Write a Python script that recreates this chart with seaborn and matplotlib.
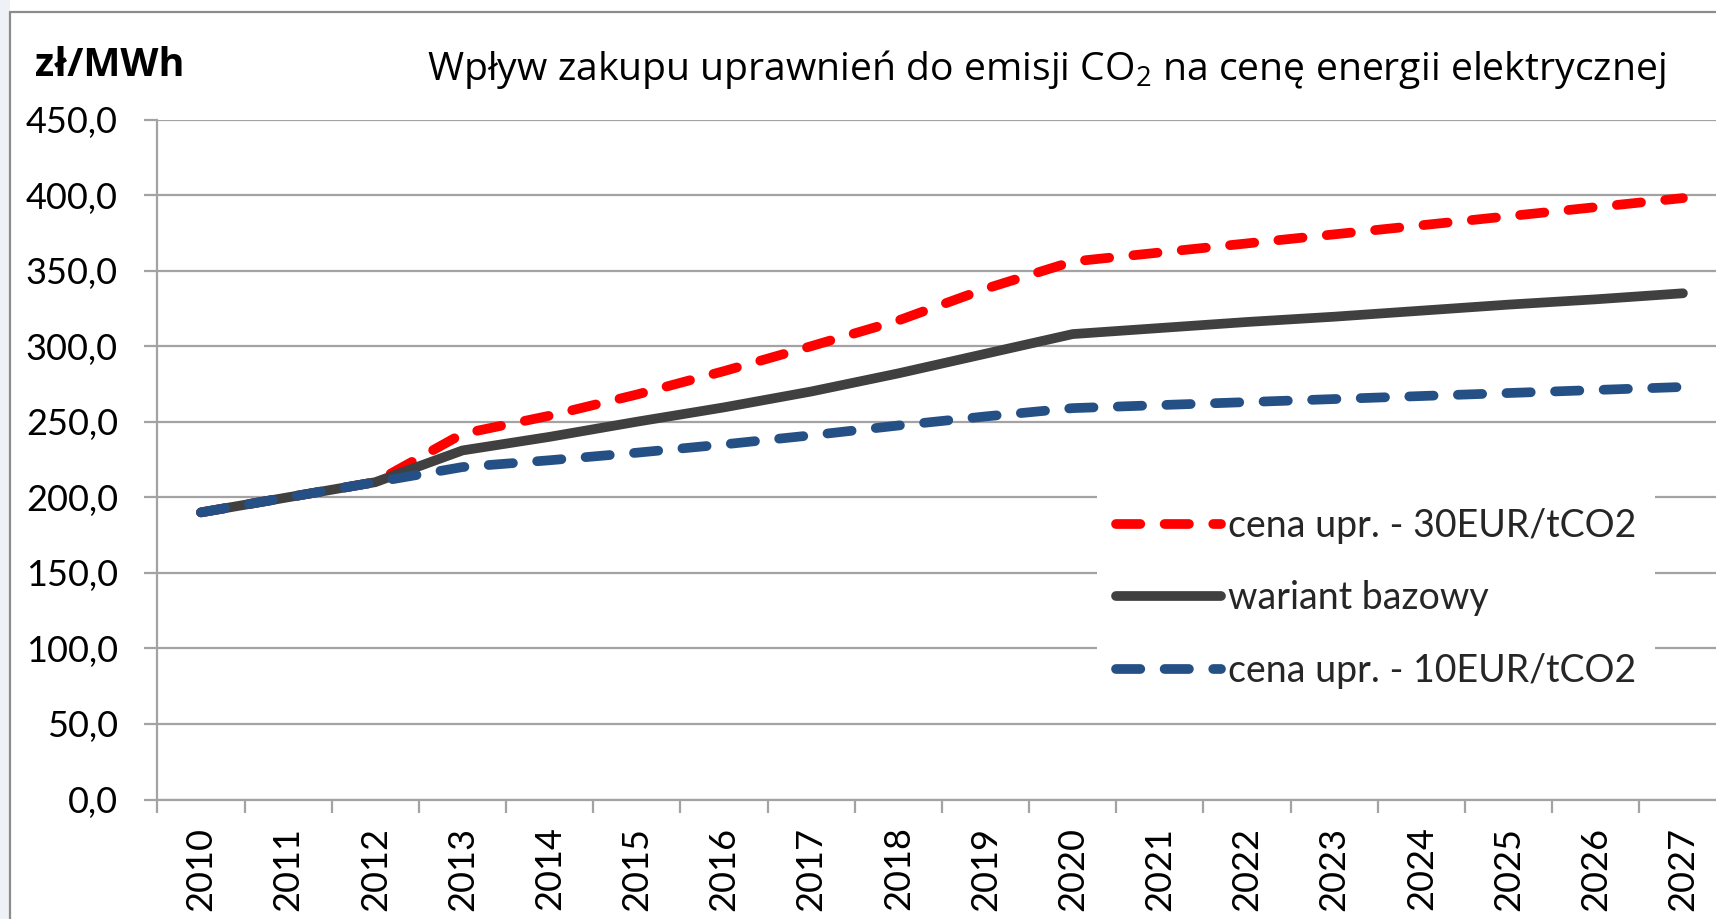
import matplotlib
matplotlib.use("Agg")
import matplotlib.pyplot as plt
import numpy as np
import pandas as pd
import seaborn as sns
from matplotlib.ticker import FixedLocator, FuncFormatter
from matplotlib.lines import Line2D
from matplotlib.patches import Rectangle

# ---------------- data ----------------
years = list(range(2010, 2028))
cena_30 = [190, 200, 210, 242, 254, 268, 283.5, 300, 317, 338, 356,
           362, 368, 374, 380, 386, 392, 398]
bazowy = [190, 200, 210, 231, 240, 250, 259.5, 270, 282, 295, 308,
          312, 316, 319.5, 323.5, 327.5, 331, 335]
cena_10 = [190, 200, 210, 220, 224.5, 229.5, 235, 241, 247.5, 253.5, 259,
           261, 263, 265, 267, 269, 271, 273]
series_names = ["cena upr. - 30EUR/tCO2", "wariant bazowy", "cena upr. - 10EUR/tCO2"]
y_ticks = [0, 50, 100, 150, 200, 250, 300, 350, 400, 450]
title_text = "Wpływ zakupu uprawnień do emisji CO$_2$ na cenę energii elektrycznej"
unit_text = "zł/MWh"

# ---------------- style ----------------
sns.set_theme(style="white")
plt.rcParams["font.family"] = ["Lato", "DejaVu Sans"]
plt.rcParams["mathtext.fontset"] = "custom"
plt.rcParams["mathtext.rm"] = "Open Sans"
plt.rcParams["mathtext.it"] = "Open Sans:italic"
plt.rcParams["mathtext.bf"] = "Open Sans:bold"

colors = {series_names[0]: "#FF0000", series_names[1]: "#404040", series_names[2]: "#255085"}
dashes = {series_names[0]: (2.5, 2.5), series_names[1]: "", series_names[2]: (2.5, 2.5)}

df = pd.DataFrame({
    "rok": years * 3,
    "cena": cena_30 + bazowy + cena_10,
    "seria": [series_names[0]] * len(years) + [series_names[1]] * len(years) + [series_names[2]] * len(years),
})

W, H = 1716, 919
fig = plt.figure(figsize=(W / 100, H / 100), dpi=100)
fig.patch.set_facecolor("white")

# slide background strip + outer chart border
fig.add_artist(Rectangle((0, 0), 10 / W, 1, transform=fig.transFigure, facecolor="#eef1f5",
                         edgecolor="none", zorder=0))
fig.add_artist(Line2D([10 / W, 10 / W], [0, 1 - 12 / H], transform=fig.transFigure,
                      color="#8c8c8c", lw=1.6, zorder=1))
fig.add_artist(Line2D([10 / W, 1], [1 - 12 / H, 1 - 12 / H], transform=fig.transFigure,
                      color="#8c8c8c", lw=1.6, zorder=1))

ax_left, ax_right = 157.4 / W, 1726.5 / W
ax_top, ax_bottom = 1 - 119.5 / H, 1 - 799.5 / H
ax = fig.add_axes([ax_left, ax_bottom, ax_right - ax_left, ax_top - ax_bottom])
ax.set_facecolor("none")

sns.lineplot(data=df, x="rok", y="cena", hue="seria", style="seria",
             hue_order=series_names, style_order=series_names,
             palette=colors, dashes=dashes, linewidth=7, legend=False, ax=ax, zorder=3)

for ln in ax.get_lines():
    ln.set_dash_capstyle("round")
    ln.set_solid_capstyle("round")
    ln.set_solid_joinstyle("round")
    ln.set_dash_joinstyle("round")
    ln.set_clip_on(False)

grid_c = "#a3a3a3"
ax.set_xlim(2009.5, 2027.5)
ax.set_ylim(0, 450)
ax.yaxis.set_major_locator(FixedLocator(y_ticks))
ax.yaxis.set_major_formatter(FuncFormatter(lambda v, p: f"{v:.1f}".replace(".", ",")))
ax.grid(axis="y", color=grid_c, lw=1.6, zorder=1)
ax.grid(axis="x", visible=False)
ax.set_axisbelow(True)

ax.xaxis.set_major_locator(FixedLocator(years))
ax.xaxis.set_major_formatter(FuncFormatter(lambda v, p: f"{int(round(v))}"))
ax.xaxis.set_minor_locator(FixedLocator([y - 0.5 for y in years] + [years[-1] + 0.5]))
ax.tick_params(axis="x", which="major", length=0, pad=19.5, labelsize=26, labelrotation=90,
               labelcolor="black")
ax.tick_params(axis="x", which="minor", length=9.4, width=1.6, color=grid_c, direction="out",
               bottom=True)
ax.tick_params(axis="y", which="major", length=9.4, width=1.6, color=grid_c, direction="out",
               pad=19, labelsize=26, labelcolor="black", left=True)
for lab in ax.get_xticklabels():
    lab.set_horizontalalignment("center")

for side in ["top", "right"]:
    ax.spines[side].set_visible(False)
for side in ["left", "bottom"]:
    ax.spines[side].set_color(grid_c)
    ax.spines[side].set_linewidth(1.6)
ax.set_xlabel("")
ax.set_ylabel("")

# texts
fig.text(35 / W, 1 - 76 / H, unit_text, fontsize=28.4, fontweight="bold", ha="left",
         va="baseline", color="black", family=["Open Sans", "DejaVu Sans"])
fig.text(427 / W, 1 - 80 / H, title_text, fontsize=28.2, ha="left", va="baseline",
         color="black", family=["Open Sans", "DejaVu Sans"])

# legend
handles = ax.get_lines()[:3]
leg = ax.legend(handles, series_names, loc="upper left",
                bbox_to_anchor=(1097 / W, 1 - 489 / H), bbox_transform=fig.transFigure,
                fontsize=27, frameon=True, facecolor="white", edgecolor="none", framealpha=1,
                borderaxespad=0, borderpad=0.5, handlelength=2.8, handletextpad=0.2,
                labelspacing=0.98, fancybox=False)
leg.set_zorder(5)

fig.savefig("out.png", dpi=100, facecolor="white")
